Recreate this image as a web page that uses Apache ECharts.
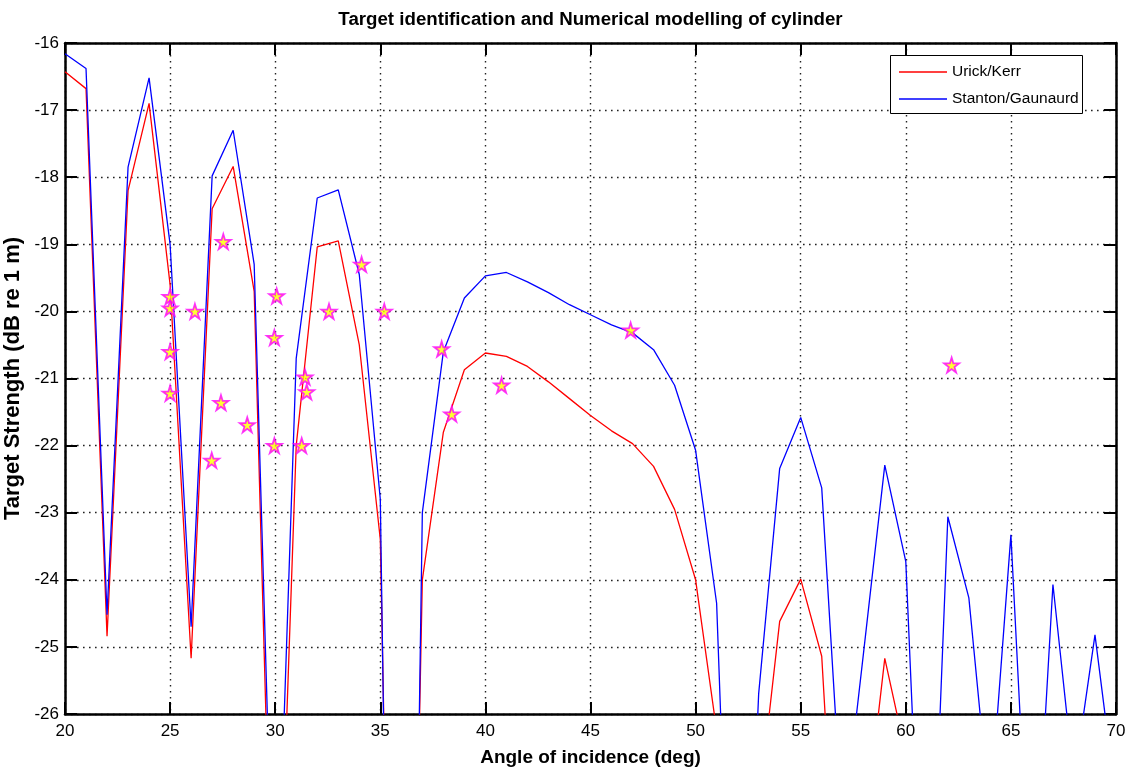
<!DOCTYPE html>
<html>
<head>
<meta charset="utf-8">
<script src="https://cdn.jsdelivr.net/npm/echarts@6/dist/echarts.min.js"></script>
<style>
html,body{margin:0;padding:0;background:#fff;}
#c{width:1133px;height:770px;}
</style>
</head>
<body>
<div id="c"></div>
<script>
// Angles of incidence (deg)
var angles = [20,21,22,23,24,25,26,27,28,29,30,31,32,33,34,35,36,37,38,39,40,41,42,43,44,45,46,47,48,49,50,51,52,53,54,55,56,57,58,59,60,61,62,63,64,65,66,67,68,69,70];
// Urick/Kerr target strength (dB re 1 m); values below -26 run off the axis
var urickKerr = [-16.43,-16.68,-24.84,-18.2,-16.9,-19.6,-25.17,-18.47,-17.84,-19.7,-31,-22.0,-19.04,-18.95,-20.5,-23.4,-39.4,-24.0,-21.8,-20.87,-20.62,-20.67,-20.82,-21.05,-21.3,-21.55,-21.78,-21.97,-22.31,-22.95,-24.0,-26.25,-29,-27.4,-24.62,-23.99,-25.14,-30.5,-27.9,-25.17,-26.6,-29];
// Stanton/Gaunaurd target strength (dB re 1 m)
var stantonGaunaurd = [-16.16,-16.38,-24.52,-17.85,-16.52,-19.0,-24.7,-17.98,-17.3,-19.3,-30.0,-20.7,-18.31,-18.19,-19.45,-22.8,-44,-23.0,-20.6,-19.8,-19.47,-19.42,-19.56,-19.72,-19.9,-20.05,-20.2,-20.32,-20.57,-21.1,-22.07,-24.35,-33,-25.7,-22.34,-21.58,-22.63,-27.8,-25.06,-22.29,-23.73,-31,-23.06,-24.27,-27.5,-23.33,-29.5,-24.07,-27.0,-24.82,-27.3];
// Measured targets (stars)
var starAngle = [25.0,25.0,26.18,25.0,25.0,27.42,28.67,26.98,30.07,29.96,29.96,31.42,31.5,31.26,32.56,27.53,34.11,35.19,37.92,40.77,38.4,46.91,62.18];
var starTS    = [-19.78,-19.95,-20.0,-20.6,-21.22,-21.36,-21.69,-22.22,-19.77,-20.39,-22.0,-20.98,-21.2,-22.0,-20.0,-18.96,-19.3,-20.0,-20.56,-21.1,-21.53,-20.28,-20.8];
// Axis settings
var xMin = 20, xMax = 70, xStep = 5;
var yMin = -26, yMax = -16, yStep = 1;
var titleText = 'Target identification and Numerical modelling of cylinder';
var xName = 'Angle of incidence (deg)';
var yName = 'Target Strength (dB re 1 m)';
var seriesNames = ['Urick/Kerr', 'Stanton/Gaunaurd'];

function pairs(xs, ys){ var out=[]; for(var i=0;i<ys.length;i++){ out.push([xs[i], ys[i]]); } return out; }

var FONT = "'Liberation Sans',Arial,sans-serif";
var grid = {left:65, right:17, top:43, bottom:56};
var gridCx = grid.left + (1133 - grid.left - grid.right)/2;

var axisLineStyle = {color:'#000', width:2.5};
var tickStyle = {show:true, inside:true, length:12, lineStyle:{color:'#000', width:2}};
var splitStyle = {show:true, lineStyle:{color:'#222', width:1.4, type:[1.6,4.4]}};

var chart = echarts.init(document.getElementById('c'), null, {renderer:'canvas'});
chart.setOption({
  animation:false,
  backgroundColor:'#fff',
  title:{text:titleText, left:gridCx - 5, textAlign:'center', top:5,
    textStyle:{fontFamily:FONT, fontWeight:'bold', fontSize:18.7, color:'#000'}},
  grid:Object.assign({outerBoundsMode:'none', containLabel:false}, grid),
  legend:{
    data:seriesNames, orient:'vertical', left:899, top:64, itemGap:11, padding:0,
    icon:'rect', itemWidth:48, itemHeight:1.4, itemStyle:{borderWidth:0},
    textStyle:{fontFamily:FONT, fontSize:15.5, color:'#000'},
    z:10
  },
  graphic:[{type:'rect', left:890, top:55, z:9, shape:{width:192, height:58},
    style:{fill:'#fff', stroke:'#000', lineWidth:1}}],
  xAxis:[{
    type:'value', min:xMin, max:xMax, interval:xStep, position:'bottom',
    name:xName, nameLocation:'middle', nameGap:34,
    nameTextStyle:{fontFamily:FONT, fontWeight:'bold', fontSize:19, color:'#000'},
    axisLine:{show:true, onZero:false, lineStyle:axisLineStyle},
    axisTick:tickStyle,
    axisLabel:{margin:9, fontFamily:FONT, fontSize:17, color:'#000'},
    splitLine:splitStyle
  },{
    type:'value', min:xMin, max:xMax, interval:xStep, position:'top',
    axisLine:{show:true, onZero:false, lineStyle:axisLineStyle},
    axisTick:tickStyle, axisLabel:{show:false}, splitLine:{show:false}
  }],
  yAxis:[{
    type:'value', min:yMin, max:yMax, interval:yStep, position:'left',
    name:yName, nameLocation:'middle', nameGap:37,
    nameTextStyle:{fontFamily:FONT, fontWeight:'bold', fontSize:22, color:'#000'},
    axisLine:{show:true, onZero:false, lineStyle:axisLineStyle},
    axisTick:tickStyle,
    axisLabel:{margin:6, fontFamily:FONT, fontSize:17, color:'#000'},
    splitLine:splitStyle
  },{
    type:'value', min:yMin, max:yMax, interval:yStep, position:'right',
    axisLine:{show:true, onZero:false, lineStyle:axisLineStyle},
    axisTick:tickStyle, axisLabel:{show:false}, splitLine:{show:false}
  }],
  series:[{
    name:seriesNames[0], type:'line', data:pairs(angles, urickKerr), showSymbol:false, symbol:'none',
    clip:true, lineStyle:{color:'#ff0000', width:1.3}, itemStyle:{color:'#ff0000'}, z:3
  },{
    name:seriesNames[1], type:'line', data:pairs(angles, stantonGaunaurd), showSymbol:false, symbol:'none',
    clip:true, lineStyle:{color:'#0000ff', width:1.3}, itemStyle:{color:'#0000ff'}, z:4
  },{
    name:'Targets', type:'scatter', data:pairs(starAngle, starTS),
    symbol:'path://M50,0 L61,35 L98,35 L68,57 L79,91 L50,70 L21,91 L32,57 L2,35 L39,35 Z',
    symbolSize:15, itemStyle:{color:'#ffff00', borderColor:'#ff00ff', borderWidth:1.8}, z:5
  }]
});
</script>
</body>
</html>
